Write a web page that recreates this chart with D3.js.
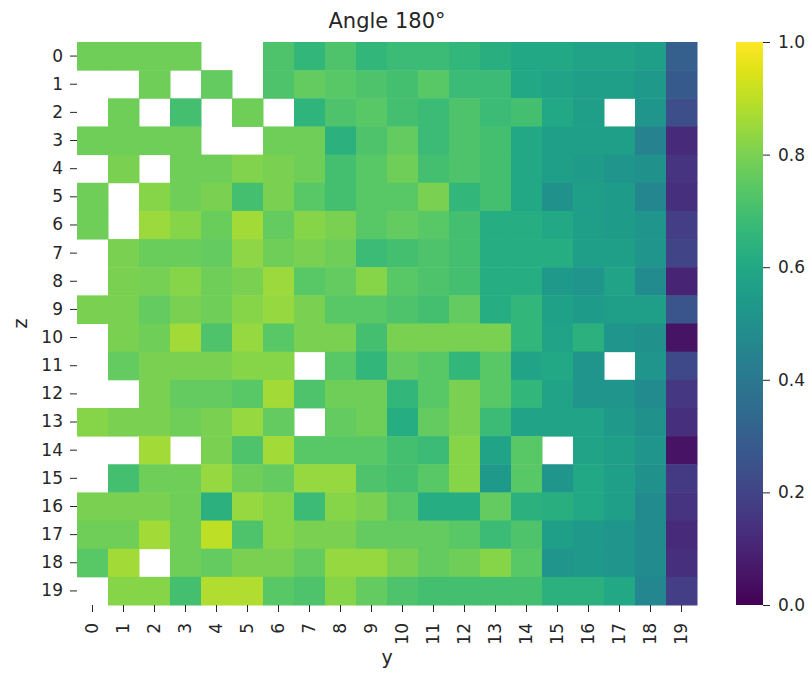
<!DOCTYPE html>
<html>
<head>
<meta charset="utf-8">
<script src="https://cdn.jsdelivr.net/npm/d3@7"></script>
<style>
  body { margin: 0; background: #fff; }
  text { font-family: "DejaVu Sans", sans-serif; fill: #262626; }
</style>
</head>
<body>
<div id="chart"></div>
<script>
// heatmap of angle 180, rows are z, columns are y (null = missing)
var zLabels = d3.range(20).map(String)
var yLabels = d3.range(20).map(String)
var cbarTicks = [0.0, 0.2, 0.4, 0.6, 0.8, 1.0]

var angleValues = [
  [0.78,0.78,0.78,0.78,null,null,0.72,0.66,0.72,0.66, 0.68,0.68,0.66,0.63,0.60,0.60,0.58,0.58,0.56,0.30],
  [null,null,0.78,null,0.76,null,0.72,0.76,0.74,0.72, 0.70,0.74,0.68,0.68,0.60,0.58,0.56,0.56,0.54,0.28],
  [null,0.78,null,0.70,null,0.78,null,0.65,0.72,0.74, 0.70,0.68,0.72,0.68,0.70,0.60,0.56,null,0.52,0.24],
  [0.78,0.78,0.78,0.78,null,null,0.78,0.78,0.64,0.72, 0.76,0.68,0.72,0.70,0.60,0.56,0.56,0.56,0.44,0.12],
  [null,0.80,null,0.78,0.78,0.81,0.80,0.78,0.70,0.74, 0.78,0.70,0.72,0.70,0.60,0.56,0.55,0.52,0.50,0.15],
  [0.78,null,0.82,0.78,0.80,0.70,0.80,0.74,0.70,0.74, 0.74,0.80,0.66,0.70,0.60,0.50,0.56,0.55,0.46,0.14],
  [0.78,null,0.85,0.82,0.77,0.86,0.76,0.82,0.80,0.74, 0.76,0.74,0.70,0.62,0.62,0.60,0.56,0.55,0.52,0.18],
  [null,0.80,0.77,0.77,0.76,0.83,0.78,0.80,0.78,0.68, 0.70,0.72,0.70,0.62,0.62,0.62,0.56,0.56,0.52,0.20],
  [null,0.80,0.79,0.82,0.78,0.80,0.85,0.74,0.76,0.82, 0.74,0.72,0.70,0.62,0.62,0.54,0.52,0.58,0.48,0.10],
  [0.80,0.80,0.76,0.80,0.78,0.82,0.84,0.80,0.74,0.74, 0.72,0.70,0.76,0.62,0.66,0.57,0.55,0.56,0.56,0.26],
  [null,0.80,0.78,0.86,0.72,0.84,0.74,0.80,0.80,0.70, 0.80,0.80,0.80,0.80,0.66,0.58,0.64,0.52,0.50,0.05],
  [null,0.76,0.80,0.80,0.80,0.82,0.82,null,0.74,0.66, 0.76,0.74,0.66,0.74,0.58,0.60,0.52,null,0.52,0.22],
  [null,null,0.80,0.76,0.76,0.74,0.86,0.72,0.78,0.78, 0.66,0.74,0.80,0.74,0.66,0.58,0.52,0.52,0.48,0.16],
  [0.82,0.80,0.80,0.78,0.80,0.84,0.76,null,0.76,0.78, 0.62,0.76,0.80,0.68,0.58,0.58,0.58,0.54,0.50,0.14],
  [null,null,0.86,null,0.80,0.72,0.86,0.74,0.74,0.74, 0.70,0.68,0.82,0.58,0.74,null,0.58,0.56,0.52,0.05],
  [null,0.70,0.78,0.78,0.84,0.78,0.76,0.84,0.84,0.72, 0.70,0.74,0.82,0.54,0.74,0.52,0.60,0.56,0.50,0.17],
  [0.80,0.80,0.80,0.78,0.64,0.84,0.82,0.68,0.82,0.80, 0.74,0.62,0.62,0.76,0.64,0.63,0.60,0.56,0.48,0.15],
  [0.78,0.78,0.86,0.78,0.90,0.72,0.82,0.80,0.80,0.76, 0.76,0.76,0.74,0.68,0.72,0.56,0.54,0.52,0.48,0.12],
  [0.74,0.86,null,0.78,0.76,0.80,0.80,0.76,0.84,0.84, 0.80,0.76,0.78,0.82,0.74,0.52,0.54,0.52,0.48,0.14],
  [null,0.82,0.82,0.70,0.88,0.88,0.74,0.72,0.82,0.76, 0.72,0.70,0.70,0.70,0.70,0.64,0.64,0.60,0.46,0.18]
]

var W = 812, H = 677
var plot = {left: 77, top: 42, right: 697, bottom: 605}
var cbar = {left: 736, right: 763}

var svg = d3.select('#chart').append('svg')
    .attr('width', W)
    .attr('height', H)

var x = d3.scaleBand().domain(yLabels).range([plot.left, plot.right])
var y = d3.scaleBand().domain(zLabels).range([plot.top, plot.bottom])
var color = d3.scaleSequential(d3.interpolateViridis).domain([0, 1])

// cells
var cells = []
angleValues.forEach(function(row, i){
    row.forEach(function(v, j){
        if (v !== null) cells.push({z: zLabels[i], y: yLabels[j], v: v})
    })
})

svg.append('g').selectAll('rect')
    .data(cells)
    .enter().append('rect')
    .attr('x', d => x(d.y))
    .attr('y', d => y(d.z))
    .attr('width', x.bandwidth() + 0.5)
    .attr('height', y.bandwidth() + 0.5)
    .attr('fill', d => color(d.v))

// axes
var xAxis = svg.append('g')
    .attr('transform', 'translate(0,' + plot.bottom + ')')
    .call(d3.axisBottom(x).tickSize(7).tickPadding(9))
xAxis.select('.domain').remove()
xAxis.selectAll('text')
    .attr('font-size', '17px')
    .attr('transform', 'rotate(-90)')
    .attr('text-anchor', 'end')
    .attr('x', -18)
    .attr('y', 0)
    .attr('dy', '0.35em')

var yAxis = svg.append('g')
    .attr('transform', 'translate(' + plot.left + ',0)')
    .call(d3.axisLeft(y).tickSize(7).tickPadding(7))
yAxis.select('.domain').remove()
yAxis.selectAll('text').attr('font-size', '17px')
svg.selectAll('.tick line').attr('stroke', '#262626')

// colorbar
var cy = d3.scaleLinear().domain([0, 1]).range([plot.bottom, plot.top])
var grad = svg.append('defs').append('linearGradient')
    .attr('id', 'viridisGrad')
    .attr('x1', 0).attr('y1', 1).attr('x2', 0).attr('y2', 0)
grad.selectAll('stop')
    .data(d3.range(0, 1.0001, 0.05))
    .enter().append('stop')
    .attr('offset', d => d)
    .attr('stop-color', d => color(d))

svg.append('rect')
    .attr('x', cbar.left)
    .attr('y', plot.top)
    .attr('width', cbar.right - cbar.left)
    .attr('height', plot.bottom - plot.top)
    .attr('fill', 'url(#viridisGrad)')

var cAxis = svg.append('g')
    .attr('transform', 'translate(' + cbar.right + ',0)')
    .call(d3.axisRight(cy).tickValues(cbarTicks).tickFormat(d3.format('.1f')).tickSize(7).tickPadding(8))
cAxis.select('.domain').remove()
cAxis.selectAll('text').attr('font-size', '17px')
cAxis.selectAll('line').attr('stroke', '#262626')

// labels
svg.append('text')
    .attr('x', (plot.left + plot.right) / 2)
    .attr('y', 28)
    .attr('text-anchor', 'middle')
    .attr('font-size', '21px')
    .text('Angle 180°')

svg.append('text')
    .attr('x', (plot.left + plot.right) / 2)
    .attr('y', 664)
    .attr('text-anchor', 'middle')
    .attr('font-size', '19px')
    .text('y')

svg.append('text')
    .attr('transform', 'translate(27,' + (plot.top + plot.bottom) / 2 + ') rotate(-90)')
    .attr('text-anchor', 'middle')
    .attr('font-size', '19px')
    .text('z')
</script>
</body>
</html>
